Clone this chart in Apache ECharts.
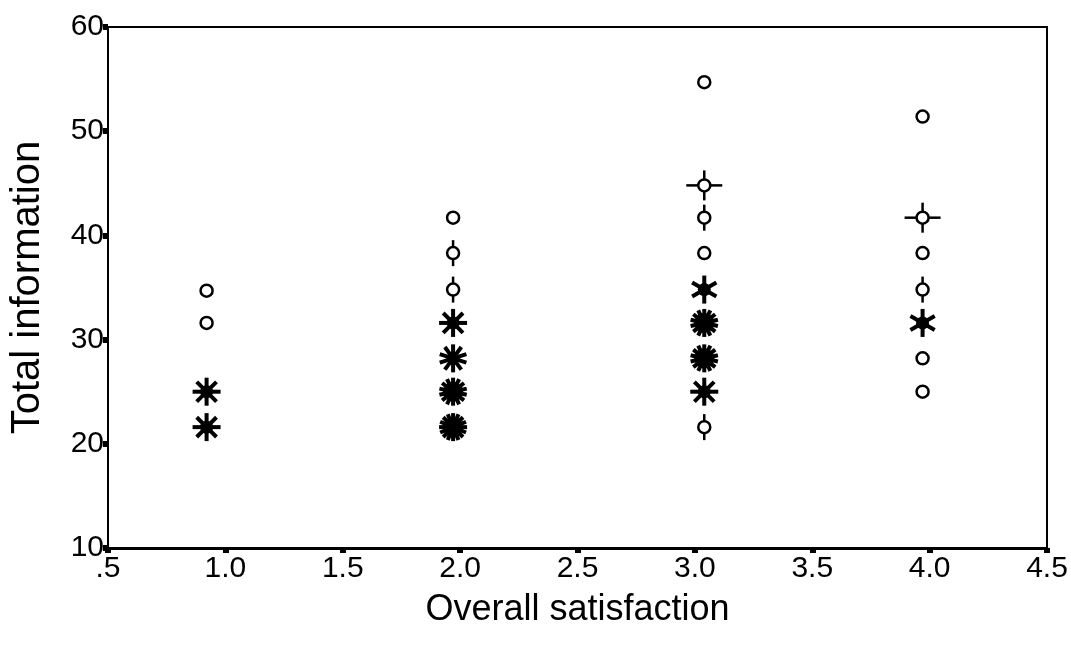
<!DOCTYPE html>
<html>
<head>
<meta charset="utf-8">
<script src="https://cdn.jsdelivr.net/npm/echarts@6/dist/echarts.min.js"></script>
<style>
  html, body { margin: 0; padding: 0; background: #fff; }
  #chart { width: 1071px; height: 646px; }
</style>
</head>
<body>
<div id="chart"></div>
<script>
// sunflower plot: each point is a (satisfaction, information) cell with its count
const satisfaction = [0.92, 0.92, 0.92, 0.92,
  1.97, 1.97, 1.97, 1.97, 1.97, 1.97, 1.97,
  3.04, 3.04, 3.04, 3.04, 3.04, 3.04, 3.04, 3.04, 3.04,
  3.97, 3.97, 3.97, 3.97, 3.97, 3.97, 3.97]
const information = [34.7, 31.6, 25.0, 21.6,
  41.7, 38.3, 34.8, 31.6, 28.2, 25.0, 21.6,
  54.7, 44.8, 41.7, 38.3, 34.8, 31.6, 28.2, 25.0, 21.6,
  51.4, 41.7, 38.3, 34.8, 31.6, 28.2, 25.0]
const counts = [1, 1, 8, 8,
  1, 2, 2, 8, 10, 14, 16,
  1, 4, 2, 1, 6, 14, 14, 8, 2,
  1, 4, 1, 2, 6, 1, 1]

const data = satisfaction.map((x, i) => [x, information[i], counts[i]])

let myChart = echarts.init(document.getElementById('chart'))

function petal(p, a, len, w) {
  return {
    type: 'line',
    shape: { x1: p[0], y1: p[1], x2: p[0] + len * Math.cos(a), y2: p[1] - len * Math.sin(a) },
    style: { stroke: '#000', lineWidth: w }
  }
}

function renderItem(params, api) {
  const p = api.coord([api.value(0), api.value(1)])
  const n = api.value(2)
  const children = []
  if (n <= 4) {
    if (n > 1) {
      for (let k = 0; k < n; k++) {
        const a = Math.PI / 2 + k * 2 * Math.PI / n
        // crosses have longer side petals
        const len = n === 4 ? (k % 2 ? 18 : 15) : 13
        children.push(petal(p, a, len, 2.5))
      }
    }
    children.push({
      type: 'circle',
      shape: { cx: p[0], cy: p[1], r: 6 },
      style: { fill: '#fff', stroke: '#000', lineWidth: 2.5 }
    })
  } else {
    for (let k = 0; k < n; k++) {
      const a = Math.PI / 2 + k * 2 * Math.PI / n
      children.push(petal(p, a, 14, 4))
    }
    children.push({
      type: 'circle',
      shape: { cx: p[0], cy: p[1], r: n >= 12 ? 10 : 6.5 },
      style: { fill: '#000' }
    })
  }
  return { type: 'group', children }
}

const option = {
  backgroundColor: '#fff',
  animation: false,
  grid: {
    left: 106, right: 24, top: 27, bottom: 98,
    show: true, borderColor: '#000', borderWidth: 2, backgroundColor: 'transparent'
  },
  xAxis: {
    type: 'value',
    min: 0.5, max: 4.5, interval: 0.5,
    name: 'Overall satisfaction',
    nameLocation: 'middle',
    nameGap: 44,
    nameTextStyle: { fontFamily: 'Liberation Sans', fontSize: 36, color: '#000' },
    axisLine: { lineStyle: { color: '#000', width: 3 } },
    axisTick: { show: true, length: 5, lineStyle: { color: '#000', width: 6 } },
    axisLabel: {
      fontFamily: 'Liberation Sans', fontSize: 30, color: '#000', margin: 6,
      formatter: v => (v === 0.5 ? '.5' : v.toFixed(1))
    },
    splitLine: { show: false }
  },
  yAxis: {
    type: 'value',
    min: 10, max: 60, interval: 10,
    name: 'Total information',
    nameLocation: 'middle',
    nameGap: 60,
    nameTextStyle: { fontFamily: 'Liberation Sans', fontSize: 40, color: '#000' },
    axisLine: { lineStyle: { color: '#000', width: 2 } },
    axisTick: { show: true, length: 5, lineStyle: { color: '#000', width: 6 } },
    axisLabel: { fontFamily: 'Liberation Sans', fontSize: 30, color: '#000', margin: 4 },
    splitLine: { show: false }
  },
  series: [{
    type: 'custom',
    renderItem: renderItem,
    data: data,
    clip: false
  }]
}
myChart.setOption(option)
window.addEventListener('resize', () => myChart.resize())
</script>
</body>
</html>
